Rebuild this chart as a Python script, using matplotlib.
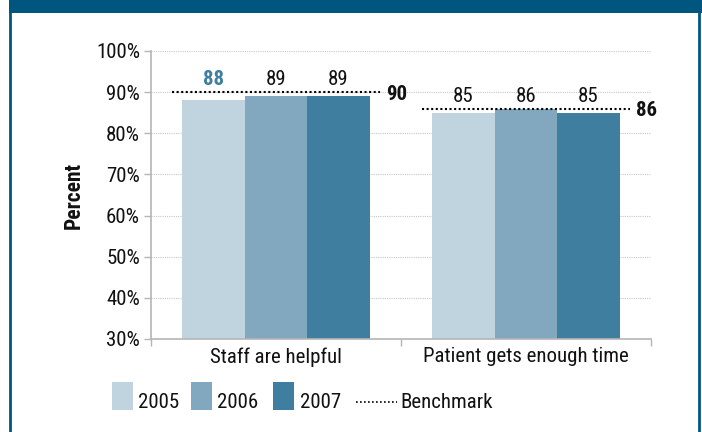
import matplotlib
matplotlib.use("Agg")
import matplotlib.pyplot as plt
from matplotlib.patches import Rectangle
from matplotlib.lines import Line2D
from matplotlib import font_manager

# Data
categories = ["Staff are helpful", "Patient gets enough time"]
years = ["2005", "2006", "2007"]
values_2005 = [88, 85]
values_2006 = [89, 86]
values_2007 = [89, 85]
benchmark = [90, 86]
yticks = [30, 40, 50, 60, 70, 80, 90, 100]

colors = ["#C0D4DF", "#81A8BF", "#407E9F"]
frame_color = "#00567F"

installed = {f.name for f in font_manager.fontManager.ttflist}
fonts = [f for f in ["Roboto Condensed", "Liberation Sans Narrow", "Roboto"]
         if f in installed] + ["DejaVu Sans"]
plt.rcParams["font.family"] = fonts
fs = 15

fig = plt.figure(figsize=(7.02, 4.32), dpi=100, facecolor="white")
ax = fig.add_axes([151 / 702, 1 - 339 / 432, 500 / 702, 288 / 432])

# Frame and header band
fig.patches.append(Rectangle((10 / 702, -0.01), 689 / 702, 1.02, transform=fig.transFigure,
                             fill=False, edgecolor=frame_color, lw=2, zorder=0))
fig.patches.append(Rectangle((9 / 702, 1 - 13 / 432), 1, 13 / 432, transform=fig.transFigure,
                             facecolor=frame_color, edgecolor="none", zorder=0))

width = 0.25
series = [values_2005, values_2006, values_2007]
x = range(len(categories))
for i, vals in enumerate(series):
    ax.bar([xi + (i - 1) * width for xi in x], vals, width=width, color=colors[i], zorder=2)

# Value labels
for ci in x:
    for i, vals in enumerate(series):
        highlight = (ci == 0 and i == 0)
        ax.text(ci + (i - 1) * width, benchmark[ci] + 1.7, str(vals[ci]),
                ha="center", va="baseline", fontsize=fs,
                color="#3F7F9F" if highlight else "#111111",
                fontweight="bold" if highlight else "normal", zorder=4)

# Benchmark lines
for ci in x:
    ax.plot([ci - 0.416, ci + 0.416], [benchmark[ci]] * 2, color="black", lw=1.5,
            linestyle=(0, (1, 1.2)), zorder=3)
    ax.text(ci + 0.44, benchmark[ci], str(benchmark[ci]), ha="left", va="center_baseline",
            fontsize=fs, fontweight="bold", color="#111111")

ax.set_xlim(-0.5, 1.5)
ax.set_ylim(30, 100)
ax.set_yticks(yticks)
ax.set_yticklabels([f"{t}%" for t in yticks])
ax.set_xticks(list(x))
ax.set_xticklabels(categories)
ax.set_xticks([-0.5, 0.5, 1.5], minor=True)

for s in ["top", "right"]:
    ax.spines[s].set_visible(False)
for s in ["left", "bottom"]:
    ax.spines[s].set_color("#B5B5B5")
    ax.spines[s].set_linewidth(1.2)

ax.tick_params(axis="y", length=5, width=1, color="#B5B5B5", labelsize=fs, pad=3,
               labelcolor="#111111")
ax.tick_params(axis="x", which="major", length=0, labelsize=fs, pad=6, labelcolor="#111111")
ax.tick_params(axis="x", which="minor", length=5, width=1, color="#B5B5B5")

ax.yaxis.grid(True, linestyle=(0, (1, 1)), color="#C8C8C8", lw=0.8, zorder=0)
ax.set_axisbelow(True)

ax.set_ylabel("Percent", fontsize=fs + 0.5, fontweight="bold", color="#111111", labelpad=8)

# Legend
def px(xp, yp):
    return xp / 702, 1 - yp / 432

legend_items = [(112, 138), (191, 217), (273, 300)]
for (xp, xt), yr, c in zip(legend_items, years, colors):
    x0, y0 = px(xp, 410)
    fig.patches.append(Rectangle((x0, y0), 21 / 702, 28 / 432, transform=fig.transFigure,
                                 facecolor=c, edgecolor="none"))
    fig.text(*px(xt, 408), yr, fontsize=fs, va="baseline", ha="left", color="#111111")

fig.lines.append(Line2D([356 / 702, 397 / 702], [1 - 402 / 432] * 2, transform=fig.transFigure,
                        color="black", lw=1.2, linestyle=(0, (1, 1.4))))
fig.text(*px(400, 408), "Benchmark", fontsize=fs, va="baseline", ha="left", color="#111111")

fig.savefig("out.png", dpi=100, facecolor="white")
